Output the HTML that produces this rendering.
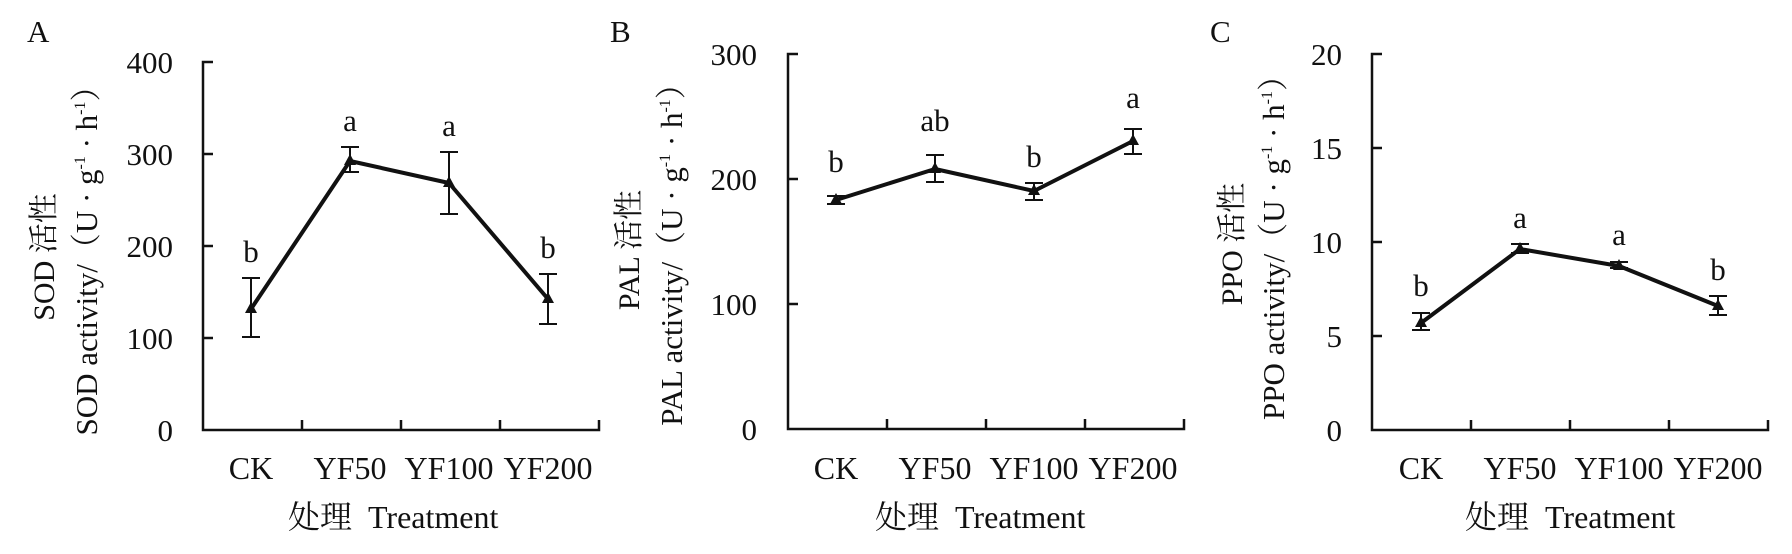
<!DOCTYPE html>
<html><head><meta charset="utf-8"><style>
html,body{margin:0;padding:0;background:#fff;}
svg{display:block;}
text{font-family:"Liberation Serif","Noto Serif CJK SC",serif;fill:#111;white-space:pre;}
</style></head><body>
<svg width="1792" height="554" viewBox="0 0 1792 554" xmlns="http://www.w3.org/2000/svg">
<!-- Panel A -->
<g>
<text x="27" y="42" font-size="31">A</text>
<g stroke="#111" stroke-width="2.5" fill="none">
<path d="M213 62 H203 V430 H599 V420 M302 430 V420 M401 430 V420 M500 430 V420"/>
<path d="M203 154 H213 M203 246 H213 M203 338 H213"/>
</g>
<g font-size="31" text-anchor="end">
<text x="173" y="73">400</text><text x="173" y="165">300</text><text x="173" y="257">200</text><text x="173" y="349">100</text><text x="173" y="441">0</text>
</g>
<text transform="translate(54,257) rotate(-90)" font-size="30" text-anchor="middle">SOD 活性</text>
<text transform="translate(97,253) rotate(-90)" font-size="31" text-anchor="middle">SOD activity/（U · g<tspan font-size="16" dy="-12">-1</tspan><tspan dy="12"> · h</tspan><tspan font-size="16" dy="-12">-1</tspan><tspan dy="12">）</tspan></text>
<g font-size="32" text-anchor="middle">
<text x="251" y="479">CK</text><text x="350" y="479">YF50</text><text x="449" y="479">YF100</text><text x="548" y="479">YF200</text>
</g>
<text x="288" y="528" font-size="32">处理  Treatment</text>
<g stroke="#111" stroke-width="2">
<path d="M251 337 V278 M242 337 H260 M242 278 H260"/>
<path d="M350 172 V147 M341 172 H359 M341 147 H359"/>
<path d="M449 214 V152 M440 214 H458 M440 152 H458"/>
<path d="M548 324 V274 M539 324 H557 M539 274 H557"/>
</g>
<polyline points="251,309 350,161 449,183 548,299" fill="none" stroke="#111" stroke-width="4" stroke-linejoin="round"/>
<g fill="#111"><path d="M251 302 L257 313 L245 313Z"/><path d="M350 154 L356 165 L344 165Z"/><path d="M449 176 L455 187 L443 187Z"/><path d="M548 292 L554 303 L542 303Z"/></g>
<g font-size="31" text-anchor="middle">
<text x="251" y="262">b</text><text x="350" y="131">a</text><text x="449" y="136">a</text><text x="548" y="258">b</text>
</g>
</g>
<!-- Panel B -->
<g>
<text x="610" y="42" font-size="31">B</text>
<g stroke="#111" stroke-width="2.5" fill="none">
<path d="M798 54 H788 V429 H1184 V419 M887 429 V419 M986 429 V419 M1085 429 V419"/>
<path d="M788 179 H798 M788 304 H798"/>
</g>
<g font-size="31" text-anchor="end">
<text x="757" y="65">300</text><text x="757" y="190">200</text><text x="757" y="315">100</text><text x="757" y="440">0</text>
</g>
<text transform="translate(639,250) rotate(-90)" font-size="30" text-anchor="middle">PAL 活性</text>
<text transform="translate(682,247) rotate(-90)" font-size="31" text-anchor="middle">PAL activity/（U · g<tspan font-size="16" dy="-12">-1</tspan><tspan dy="12"> · h</tspan><tspan font-size="16" dy="-12">-1</tspan><tspan dy="12">）</tspan></text>
<g font-size="32" text-anchor="middle">
<text x="836" y="479">CK</text><text x="935" y="479">YF50</text><text x="1034" y="479">YF100</text><text x="1133" y="479">YF200</text>
</g>
<text x="875" y="528" font-size="32">处理  Treatment</text>
<g stroke="#111" stroke-width="2">
<path d="M836 204 V196 M827 204 H845 M827 196 H845"/>
<path d="M935 182 V155 M926 182 H944 M926 155 H944"/>
<path d="M1034 200 V183 M1025 200 H1043 M1025 183 H1043"/>
<path d="M1133 154 V129 M1124 154 H1142 M1124 129 H1142"/>
</g>
<polyline points="836,200 935,169 1034,191 1133,141" fill="none" stroke="#111" stroke-width="4" stroke-linejoin="round"/>
<g fill="#111"><path d="M836 193 L842 204 L830 204Z"/><path d="M935 162 L941 173 L929 173Z"/><path d="M1034 184 L1040 195 L1028 195Z"/><path d="M1133 134 L1139 145 L1127 145Z"/></g>
<g font-size="31" text-anchor="middle">
<text x="836" y="172">b</text><text x="935" y="131">ab</text><text x="1034" y="167">b</text><text x="1133" y="108">a</text>
</g>
</g>
<!-- Panel C -->
<g>
<text x="1210" y="42" font-size="31">C</text>
<g stroke="#111" stroke-width="2.5" fill="none">
<path d="M1382 54 H1372 V430 H1768 V420 M1471 430 V420 M1570 430 V420 M1669 430 V420"/>
<path d="M1372 148 H1382 M1372 242 H1382 M1372 336 H1382"/>
</g>
<g font-size="31" text-anchor="end">
<text x="1342" y="65">20</text><text x="1342" y="159">15</text><text x="1342" y="253">10</text><text x="1342" y="347">5</text><text x="1342" y="441">0</text>
</g>
<text transform="translate(1242,244) rotate(-90)" font-size="30" text-anchor="middle">PPO 活性</text>
<text transform="translate(1284,240) rotate(-90)" font-size="31" text-anchor="middle">PPO activity/（U · g<tspan font-size="16" dy="-12">-1</tspan><tspan dy="12"> · h</tspan><tspan font-size="16" dy="-12">-1</tspan><tspan dy="12">）</tspan></text>
<g font-size="32" text-anchor="middle">
<text x="1421" y="479">CK</text><text x="1520" y="479">YF50</text><text x="1619" y="479">YF100</text><text x="1718" y="479">YF200</text>
</g>
<text x="1465" y="528" font-size="32">处理  Treatment</text>
<g stroke="#111" stroke-width="2">
<path d="M1421 330 V313 M1412 330 H1430 M1412 313 H1430"/>
<path d="M1520 253 V244 M1511 253 H1529 M1511 244 H1529"/>
<path d="M1619 268 V262 M1610 268 H1628 M1610 262 H1628"/>
<path d="M1718 315 V296 M1709 315 H1727 M1709 296 H1727"/>
</g>
<polyline points="1421,323 1520,249 1619,266 1718,306" fill="none" stroke="#111" stroke-width="4" stroke-linejoin="round"/>
<g fill="#111"><path d="M1421 316 L1427 327 L1415 327Z"/><path d="M1520 242 L1526 253 L1514 253Z"/><path d="M1619 259 L1625 270 L1613 270Z"/><path d="M1718 299 L1724 310 L1712 310Z"/></g>
<g font-size="31" text-anchor="middle">
<text x="1421" y="296">b</text><text x="1520" y="228">a</text><text x="1619" y="245">a</text><text x="1718" y="280">b</text>
</g>
</g>
</svg>
</body></html>
